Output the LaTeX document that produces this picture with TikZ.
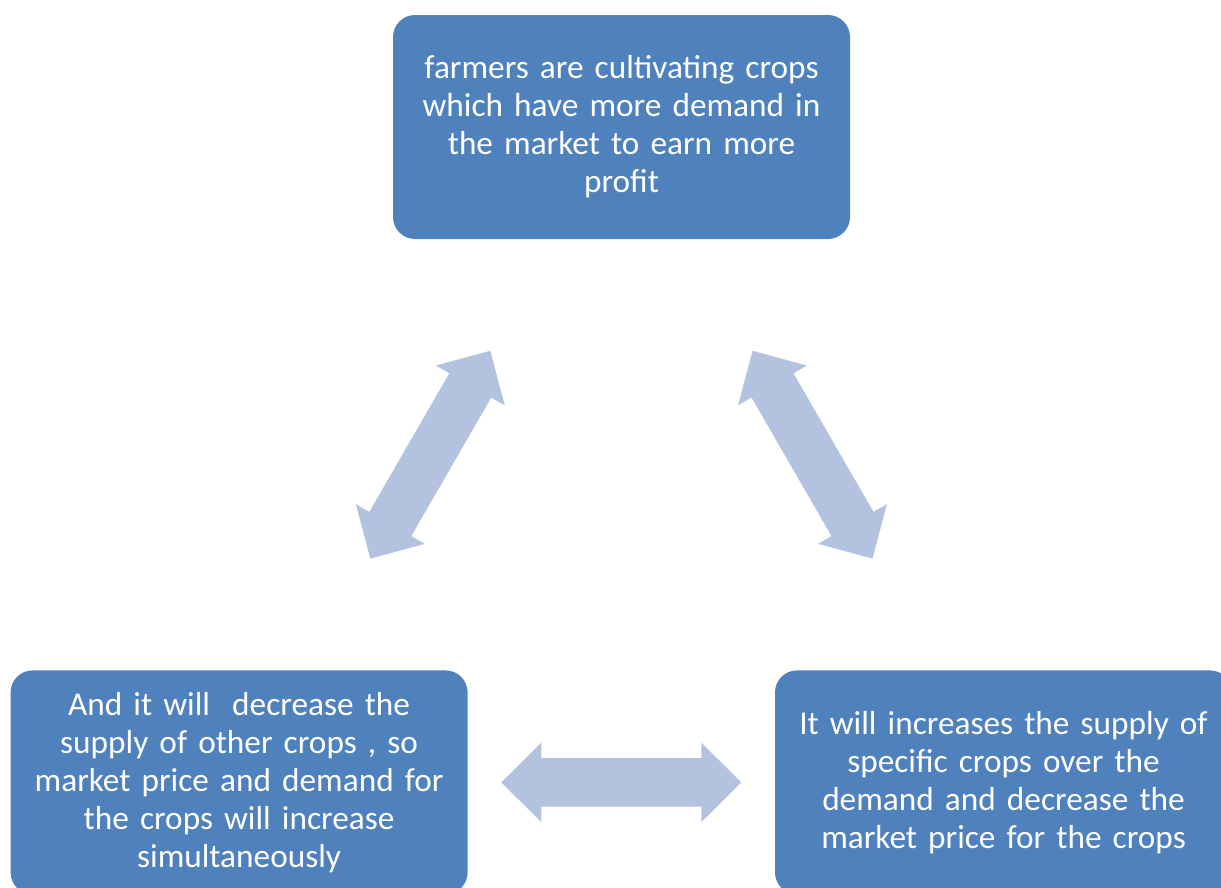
\documentclass[tikz,border=0pt]{standalone}
\usepackage{fontspec}
\setmainfont{Carlito}
\usetikzlibrary{positioning,calc}
\definecolor{boxblue}{RGB}{79,129,189}
\definecolor{arrowblue}{RGB}{179,194,222}

\begin{document}
\begin{tikzpicture}[x=1pt, y=1pt,
    main/.style = {fill=boxblue, rounded corners=22pt, text=white, minimum width=457pt, minimum height=224pt, text width=437pt, inner sep=10pt, align=center, font=\fontsize{33.3}{38}\selectfont},
    dblarrow/.pic = {\fill[arrowblue] (-120,0) -- (-80,39.75) -- (-80,24.25) -- (80,24.25) -- (80,39.75) -- (120,0) -- (80,-39.75) -- (80,-24.25) -- (-80,-24.25) -- (-80,-39.75) -- cycle;}]
    \useasboundingbox (0,0) rectangle (1221,-887);
    \clip (0,0) rectangle (1221,-887);

    % top
    \node[main] (farmers) at (621.5,-127) {farmers are cultivating crops\\ which have more demand in\\ the market to earn more\\ profit};

    % left
    \node[main] (others) [below left=431pt and -75pt of farmers] {And it will\ \ decrease the\\ supply of other crops , so\\ market price and demand for\\ the crops will increase\\ simultaneously};

    % right
    \node[main] (supply) [right=307pt of others] {It will increases the supply of\\ specific crops over the\\ demand and decrease the\\ market price for the crops};

    % arrows
    \pic[rotate=60] at ($(others)!0.5!(farmers)$) {dblarrow};
    \pic[rotate=-60] at ($(farmers)!0.5!(supply)$) {dblarrow};
    \pic at ($(others)!0.5!(supply)$) {dblarrow};
\end{tikzpicture}
\end{document}
